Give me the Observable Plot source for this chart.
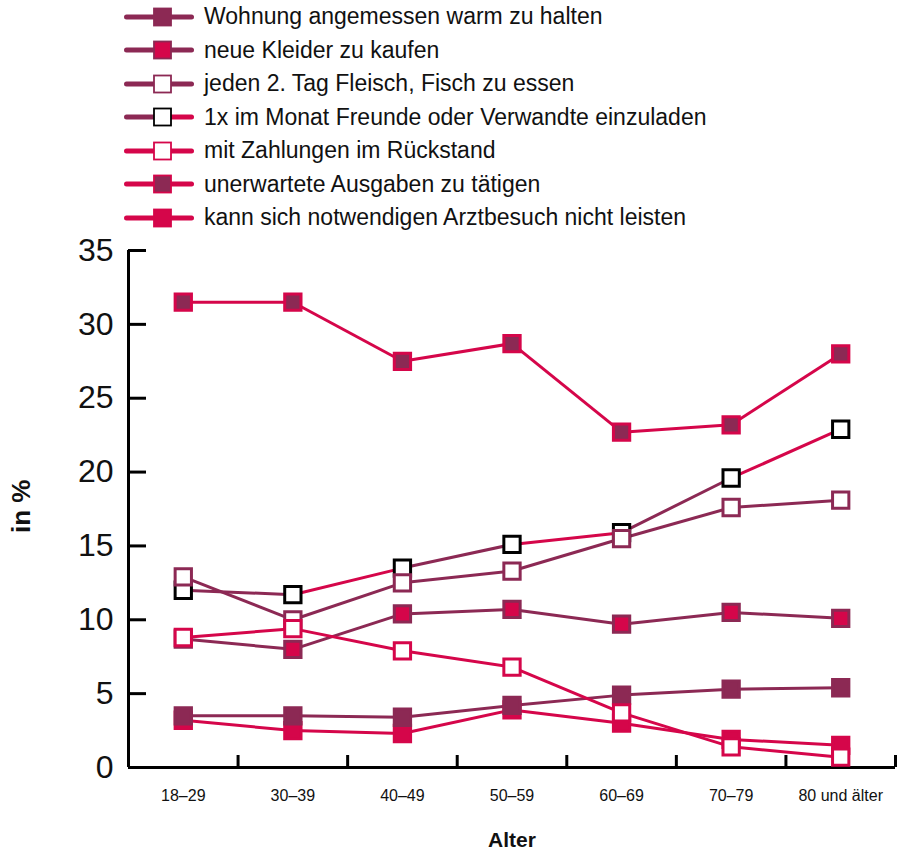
<!DOCTYPE html>
<html>
<head>
<meta charset="utf-8">
<script src="https://cdn.jsdelivr.net/npm/d3@7"></script>
<script src="https://cdn.jsdelivr.net/npm/@observablehq/plot@0.6"></script>
<style>
  html, body { margin: 0; padding: 0; background: #fff; }
  body { width: 902px; font-family: "Liberation Sans", Arial, Helvetica, sans-serif; }
  #legend { height: 220px; overflow: visible; position: relative; z-index: 1; }
  .row { display: flex; align-items: center; height: 33.5px; padding-left: 122px; }
  .row svg { flex: none; }
  .row span { font-size: 23px; color: #111; margin-left: 8px; white-space: nowrap; }
  #chart svg { display: block; overflow: visible; }
</style>
</head>
<body>
<div id="legend"></div>
<div id="chart"></div>
<script>
// ---- data ----
const ageGroups = ["18–29", "30–39", "40–49", "50–59", "60–69", "70–79", "80 und älter"];
const seriesNames = [
  "Wohnung angemessen warm zu halten",
  "neue Kleider zu kaufen",
  "jeden 2. Tag Fleisch, Fisch zu essen",
  "1x im Monat Freunde oder Verwandte einzuladen",
  "mit Zahlungen im Rückstand",
  "unerwartete Ausgaben zu tätigen",
  "kann sich notwendigen Arztbesuch nicht leisten"
];
const wohnung    = [3.5, 3.5, 3.4, 4.2, 4.9, 5.3, 5.4];
const kleider    = [8.7, 8.0, 10.4, 10.7, 9.7, 10.5, 10.1];
const fleisch    = [12.9, 10.0, 12.5, 13.3, 15.5, 17.6, 18.1];
const freunde    = [12.0, 11.7, 13.5, 15.1, 15.9, 19.6, 22.9];
const zahlungen  = [8.8, 9.4, 7.9, 6.8, 3.7, 1.4, 0.7];
const unerwartet = [31.5, 31.5, 27.5, 28.7, 22.7, 23.2, 28.0];
const arzt       = [3.2, 2.5, 2.3, 3.9, 3.0, 1.9, 1.5];
const yTicks = [0, 5, 10, 15, 20, 25, 30, 35];

// ---- styles ----
const PLUM = "#8c2954", CRIM = "#d5064a";
const valuesList = [wohnung, kleider, fleisch, freunde, zahlungen, unerwartet, arzt];
const lineColors = [
  [PLUM], [PLUM], [PLUM], [PLUM, CRIM], [CRIM], [CRIM], [CRIM]
];
const markerFill   = [PLUM, CRIM, "#fff", "#fff", "#fff", PLUM, CRIM];
const markerStroke = [PLUM, PLUM, PLUM, "#000", CRIM, CRIM, CRIM];
// marker drawing order (bottom -> top)
const markerOrder = [3, 2, 6, 0, 1, 4, 5];

// ---- legend ----
const legend = document.getElementById("legend");
seriesNames.forEach((name, s) => {
  const lc = lineColors[s];
  const left = lc[0], right = lc[lc.length - 1];
  const row = document.createElement("div");
  row.className = "row";
  row.innerHTML = `<svg width="74" height="24" viewBox="0 0 74 24">
    <line x1="4.5" y1="12" x2="40" y2="12" stroke="${left}" stroke-width="5" stroke-linecap="round"/>
    <line x1="40" y1="12" x2="69.5" y2="12" stroke="${right}" stroke-width="5" stroke-linecap="round"/>
    <rect x="32" y="3.5" width="17" height="17" fill="${markerFill[s]}" stroke="${markerStroke[s]}" stroke-width="1.8"/>
  </svg><span>${name}</span>`;
  legend.appendChild(row);
});

// ---- chart data ----
const segments = [];
valuesList.forEach((vals, s) => {
  for (let i = 0; i < vals.length - 1; i++) {
    const lc = lineColors[s];
    segments.push({x1: i, y1: vals[i], x2: i + 1, y2: vals[i + 1], stroke: lc[i % lc.length]});
  }
});
const points = [];
markerOrder.forEach(s => {
  valuesList[s].forEach((v, i) => points.push({x: i, y: v, fill: markerFill[s], stroke: markerStroke[s]}));
});
const boundaries = d3.range(ageGroups.length + 1).map(i => i - 0.5);

const chart = Plot.plot({
  width: 902,
  height: 632,
  marginLeft: 128,
  marginRight: 7,
  marginTop: 30,
  marginBottom: 85,
  style: {fontFamily: "'Liberation Sans', Arial, Helvetica, sans-serif", color: "#111", background: "transparent", overflow: "visible"},
  x: {domain: [-0.5, ageGroups.length - 0.5], axis: null},
  y: {domain: [0, 35], axis: null},
  marks: [
    Plot.axisY({ticks: yTicks, tickSize: -18, tickFormat: () => "", strokeWidth: 3, stroke: "#000"}),
    Plot.axisY({ticks: yTicks, tickSize: 0, tickPadding: 15, fontSize: 32, fill: "#111"}),
    Plot.axisX({ticks: boundaries, tickSize: -12, tickFormat: () => "", strokeWidth: 3, stroke: "#000"}),
    Plot.axisX({ticks: d3.range(ageGroups.length), tickSize: 0, tickPadding: 22, fontSize: 16, fill: "#111",
      tickFormat: i => ageGroups[i]}),
    Plot.ruleX([-0.5], {stroke: "#000", strokeWidth: 3}),
    Plot.ruleY([0], {stroke: "#000", strokeWidth: 3}),
    Plot.link(segments, {x1: "x1", y1: "y1", x2: "x2", y2: "y2", stroke: d => d.stroke, strokeWidth: 3}),
    Plot.dot(points, {x: "x", y: "y", symbol: "square", r: 9.2, fill: d => d.fill, stroke: d => d.stroke, strokeWidth: 3}),
    Plot.text(["Alter"], {frameAnchor: "bottom", dy: 79, text: d => d, fontSize: 21, fontWeight: "bold", fill: "#111"}),
    Plot.text(["in %"], {frameAnchor: "left", dx: -107, dy: 24, rotate: -90, text: d => d, fontSize: 26, fontWeight: "bold", fill: "#111"})
  ]
});
document.getElementById("chart").appendChild(chart);
</script>
</body>
</html>
